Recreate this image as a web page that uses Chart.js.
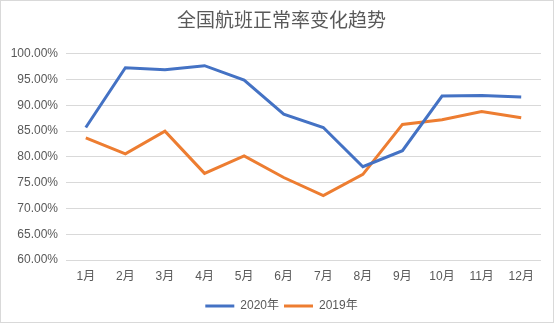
<!DOCTYPE html>
<html>
<head>
<meta charset="utf-8">
<script src="https://cdn.jsdelivr.net/npm/chart.js@4/dist/chart.umd.min.js"></script>
<style>
html,body{margin:0;padding:0;background:#fff;}
#wrap{width:555px;height:324px;position:relative;}
</style>
</head>
<body>
<div id="wrap"><canvas id="c" width="555" height="324"></canvas></div>
<script>
const categories = ['1月','2月','3月','4月','5月','6月','7月','8月','9月','10月','11月','12月'];
const series2020 = [0.857, 0.973, 0.969, 0.977, 0.949, 0.883, 0.857, 0.781, 0.812, 0.918, 0.919, 0.916];
const series2019 = [0.837, 0.806, 0.850, 0.768, 0.802, 0.760, 0.725, 0.766, 0.863, 0.872, 0.888, 0.876];
const seriesNames = ['2020年', '2019年'];
const titleText = '全国航班正常率变化趋势';
const yMin = 0.6, yMax = 1.0, yStep = 0.05;

const FONT = '"Liberation Sans", Arial, "Noto Sans CJK SC", sans-serif';
const TXT = '#595959';
const colors = ['#4472C4', '#ED7D31'];

const borderPlugin = {
  id: 'outerBorder',
  afterDraw(chart) {
    const ctx = chart.ctx;
    ctx.save();
    ctx.strokeStyle = '#d9d9d9';
    ctx.lineWidth = 1;
    ctx.strokeRect(0.5, 0.5, chart.width - 2, chart.height - 2);
    ctx.restore();
  }
};

new Chart(document.getElementById('c'), {
  type: 'line',
  data: {
    labels: categories,
    datasets: [
      { label: seriesNames[0], data: series2020, borderColor: colors[0], backgroundColor: colors[0], borderWidth: 3, pointRadius: 0, tension: 0, fill: false },
      { label: seriesNames[1], data: series2019, borderColor: colors[1], backgroundColor: colors[1], borderWidth: 3, pointRadius: 0, tension: 0, fill: false }
    ]
  },
  options: {
    responsive: false,
    animation: false,
    devicePixelRatio: 1,
    layout: { padding: { left: 8, right: 0, top: 0, bottom: 2 } },
    plugins: {
      title: {
        display: true,
        text: titleText,
        color: TXT,
        font: { family: FONT, size: 19, weight: 'normal' },
        padding: { top: 10, bottom: 21 }
      },
      legend: {
        position: 'bottom',
        labels: {
          color: TXT,
          font: { family: FONT, size: 12 },
          boxWidth: 29,
          boxHeight: 3,
          padding: 5,
          generateLabels(chart) {
            return chart.data.datasets.map((ds, i) => ({
              text: ds.label,
              fillStyle: ds.borderColor,
              strokeStyle: ds.borderColor,
              lineWidth: 0,
              hidden: false,
              datasetIndex: i,
              fontColor: TXT
            }));
          }
        }
      },
      tooltip: { enabled: false }
    },
    scales: {
      x: {
        offset: true,
        grid: { display: false, drawTicks: false, offset: true },
        border: { display: false },
        ticks: { color: TXT, font: { family: FONT, size: 12 }, padding: 9, maxRotation: 0, autoSkip: false },
        afterFit(scale) { scale.height = 35; }
      },
      y: {
        min: yMin,
        max: yMax,
        grid: { color: '#d9d9d9', lineWidth: 1, drawTicks: false },
        border: { display: false },
        ticks: {
          stepSize: yStep,
          color: TXT,
          font: { family: FONT, size: 12 },
          padding: 8,
          callback: v => (v * 100).toFixed(2) + '%'
        },
        afterFit(scale) { scale.width = 58; }
      },
      yRight: {
        type: 'linear',
        position: 'right',
        display: true,
        grid: { display: false, drawTicks: false },
        border: { display: false },
        ticks: { display: false },
        afterFit(scale) { scale.width = 14; }
      }
    }
  },
  plugins: [borderPlugin]
});
</script>
</body>
</html>
